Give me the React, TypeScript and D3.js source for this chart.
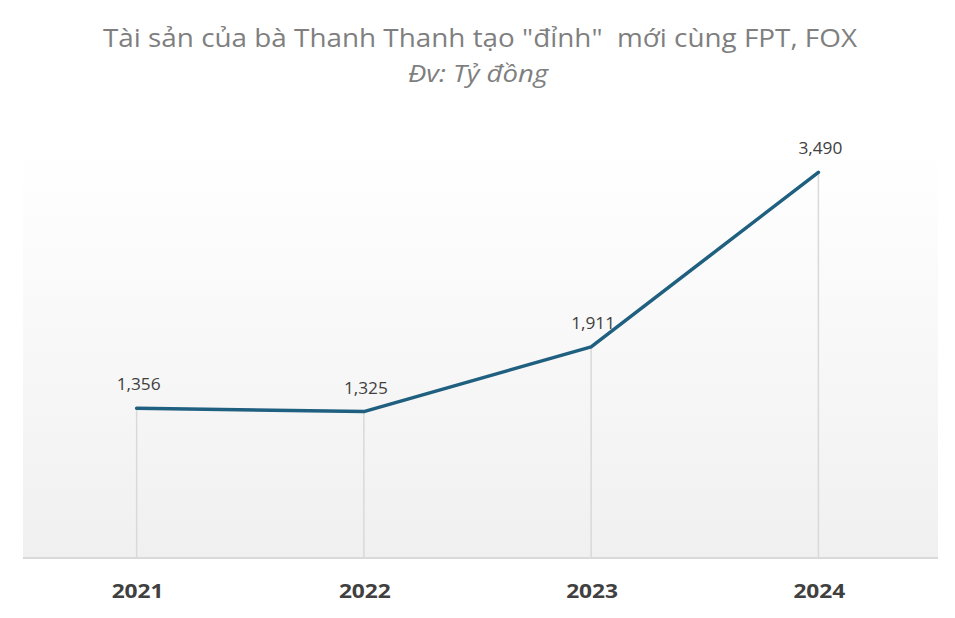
import React, { useEffect, useRef } from "react";
import * as d3 from "d3";

const years = ["2021", "2022", "2023", "2024"];
const assets = [1356, 1325, 1911, 3490];

const title = 'Tài sản của bà Thanh Thanh tạo "đỉnh"  mới cùng FPT, FOX';
const subtitle = "Đv: Tỷ đồng";

const App: React.FC = () => {
  const svgRef = useRef<SVGSVGElement>(null);

  useEffect(() => {
    if (!svgRef.current) return;
    const width = 955;
    const height = 618;
    const svg = d3.select(svgRef.current);
    svg.selectAll("*").remove();
    svg.attr("width", width).attr("height", height);

    const font = "Open Sans, Noto Sans, sans-serif";
    const left = 23;
    const right = 932;
    const baseY = 558;

    const x = d3.scaleBand<string>().domain(years).range([left, right]);
    const y = d3.scaleLinear().domain([0, 4000]).range([baseY, 116]);
    const cx = (d: string) => (x(d) || 0) + x.bandwidth() / 2;

    // background gradient
    const defs = svg.append("defs");
    const grad = defs
      .append("linearGradient")
      .attr("id", "bg")
      .attr("x1", 0)
      .attr("y1", 0)
      .attr("x2", 0)
      .attr("y2", 1);
    grad.append("stop").attr("offset", "0%").attr("stop-color", "#ffffff");
    grad.append("stop").attr("offset", "100%").attr("stop-color", "#f0f0f0");

    svg
      .append("rect")
      .attr("x", left)
      .attr("y", 150)
      .attr("width", 938 - left)
      .attr("height", baseY - 150)
      .attr("fill", "url(#bg)");

    // title
    svg
      .append("text")
      .attr("x", 480)
      .attr("y", 47)
      .attr("text-anchor", "middle")
      .attr("textLength", 754)
      .attr("lengthAdjust", "spacingAndGlyphs")
      .style("font-family", font)
      .style("font-size", "26px")
      .style("fill", "#7f7f7f")
      .style("white-space", "pre")
      .text(title);

    svg
      .append("text")
      .attr("x", 478)
      .attr("y", 82)
      .attr("text-anchor", "middle")
      .attr("textLength", 140)
      .attr("lengthAdjust", "spacingAndGlyphs")
      .style("font-family", font)
      .style("font-size", "23px")
      .style("font-style", "italic")
      .style("fill", "#7f7f7f")
      .text(subtitle);

    // drop lines
    svg
      .selectAll("line.drop")
      .data(years)
      .enter()
      .append("line")
      .attr("class", "drop")
      .attr("x1", (d) => cx(d))
      .attr("x2", (d) => cx(d))
      .attr("y1", (_, i) => y(assets[i]))
      .attr("y2", baseY)
      .attr("stroke", "#d9d9d9")
      .attr("stroke-width", 1.5);

    // baseline
    svg
      .append("line")
      .attr("x1", left)
      .attr("x2", 938)
      .attr("y1", baseY)
      .attr("y2", baseY)
      .attr("stroke", "#d9d9d9")
      .attr("stroke-width", 2);

    // line
    const line = d3
      .line<number>()
      .x((_, i) => cx(years[i]))
      .y((d) => y(d));

    svg
      .append("path")
      .attr("d", line(assets) || "")
      .attr("fill", "none")
      .attr("stroke", "#1f5f7f")
      .attr("stroke-width", 3.5)
      .attr("stroke-linecap", "round")
      .attr("stroke-linejoin", "round");

    // data labels
    const fmt = d3.format(",");
    svg
      .selectAll("text.label")
      .data(assets)
      .enter()
      .append("text")
      .attr("class", "label")
      .attr("x", (_, i) => cx(years[i]) + 2)
      .attr("y", (d) => y(d) - 18)
      .attr("text-anchor", "middle")
      .attr("textLength", 44)
      .attr("lengthAdjust", "spacingAndGlyphs")
      .style("font-family", font)
      .style("font-size", "17px")
      .style("fill", "#404040")
      .text((d) => fmt(d));

    // x axis labels
    svg
      .selectAll("text.year")
      .data(years)
      .enter()
      .append("text")
      .attr("class", "year")
      .attr("x", (d) => cx(d) + 1)
      .attr("y", 598)
      .attr("text-anchor", "middle")
      .attr("textLength", 52)
      .attr("lengthAdjust", "spacingAndGlyphs")
      .style("font-family", font)
      .style("font-size", "20px")
      .style("font-weight", "bold")
      .style("fill", "#404040")
      .text((d) => d);
  }, []);

  return (
    <div style={{ width: 955, height: 618, margin: "-8px" }}>
      <svg ref={svgRef} style={{ display: "block" }}></svg>
    </div>
  );
};

export default App;
